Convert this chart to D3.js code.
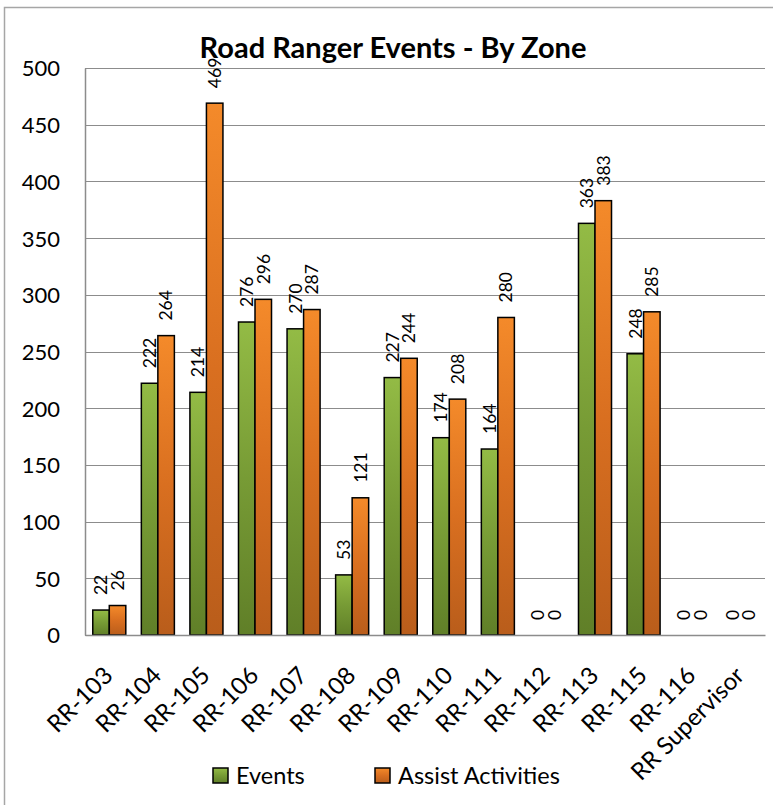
<!DOCTYPE html>
<html>
<head>
<meta charset="utf-8">
<script src="https://cdn.jsdelivr.net/npm/d3@7"></script>
<style>
  body { margin: 0; background: #fff; }
  svg text { font-family: Lato, "Open Sans", sans-serif; fill: #000; }
</style>
</head>
<body>
<script>
(function(){

//chart data
var zones = ["RR-103", "RR-104", "RR-105", "RR-106", "RR-107", "RR-108", "RR-109", "RR-110", "RR-111", "RR-112", "RR-113", "RR-115", "RR-116", "RR Supervisor"];
var events = [22, 222, 214, 276, 270, 53, 227, 174, 164, 0, 363, 248, 0, 0];
var assists = [26, 264, 469, 296, 287, 121, 244, 208, 280, 0, 383, 285, 0, 0];
var seriesNames = ["Events", "Assist Activities"];
var yTicks = [0, 50, 100, 150, 200, 250, 300, 350, 400, 450, 500];

var width = 773,
    height = 805,
    left = 85,
    right = 765,
    top = 68,
    bottom = 635;

var svg = d3.select("body")
    .append("svg")
    .attr("width", width)
    .attr("height", height);

//gradients for the bars
var defs = svg.append("defs");
var grads = [
    { id: "gGreen", c: ["#93bb45", "#779b35", "#607f28"] },
    { id: "gOrange", c: ["#f48a2a", "#d96f20", "#b95d1b"] }
];
grads.forEach(function(g){
    var lg = defs.append("linearGradient")
        .attr("id", g.id)
        .attr("x1", 0).attr("y1", 0).attr("x2", 0).attr("y2", 1);
    lg.append("stop").attr("offset", "0%").attr("stop-color", g.c[0]);
    lg.append("stop").attr("offset", "50%").attr("stop-color", g.c[1]);
    lg.append("stop").attr("offset", "100%").attr("stop-color", g.c[2]);
});
var fills = ["url(#gGreen)", "url(#gOrange)"];

//outer frame
svg.append("rect")
    .attr("x", 4.5)
    .attr("y", 7.5)
    .attr("width", 820)
    .attr("height", 820)
    .attr("fill", "none")
    .attr("stroke", "#a6a6a6")
    .attr("stroke-width", 1.5);

//scales
var x = d3.scaleBand()
    .domain(zones)
    .range([left, right])
    .paddingInner(0.32)
    .paddingOuter(0.16);

var xs = d3.scaleBand()
    .domain([0, 1])
    .range([0, x.bandwidth()]);

var y = d3.scaleLinear()
    .domain([0, 500])
    .range([bottom, top]);

//gridlines
svg.append("g")
    .selectAll("line")
    .data(yTicks)
    .enter()
    .append("line")
    .attr("x1", left)
    .attr("x2", right)
    .attr("y1", function(d){ return Math.round(y(d)) + 0.5; })
    .attr("y2", function(d){ return Math.round(y(d)) + 0.5; })
    .attr("stroke", "#8c8c8c")
    .attr("stroke-width", 1.2);

//y axis
var yAxis = svg.append("g")
    .attr("transform", "translate(" + left + ",0)")
    .call(d3.axisLeft(y).tickValues(yTicks).tickSize(0).tickPadding(25));
yAxis.select(".domain").attr("stroke", "#8c8c8c").attr("stroke-width", 1.5);
yAxis.selectAll("text")
    .style("font-size", "22px")
    .attr("dy", "0.36em");

//bars
var data = [];
zones.forEach(function(z, i){
    data.push({ zone: z, s: 0, v: events[i] });
    data.push({ zone: z, s: 1, v: assists[i] });
});

var shown = data.filter(function(d){ return d.v > 0; });

svg.append("g")
    .selectAll("rect")
    .data(shown)
    .enter()
    .append("rect")
    .attr("x", function(d){ return x(d.zone) + xs(d.s); })
    .attr("y", function(d){ return y(d.v); })
    .attr("width", xs.bandwidth())
    .attr("height", function(d){ return y(0) - y(d.v); })
    .attr("fill", function(d){ return fills[d.s]; })
    .attr("stroke", "#000")
    .attr("stroke-width", 1.5);

//value labels
svg.append("g")
    .selectAll("text")
    .data(data)
    .enter()
    .append("text")
    .attr("transform", function(d){
        var cx = x(d.zone) + xs(d.s) + xs.bandwidth() / 2;
        return "translate(" + cx + "," + (y(d.v) - 15) + ") rotate(-90)";
    })
    .attr("dy", "0.36em")
    .style("font-size", "17.5px")
    .text(function(d){ return d.v; });

//x axis
var xAxis = svg.append("g")
    .attr("transform", "translate(0," + bottom + ")")
    .call(d3.axisBottom(x).tickSize(0).tickPadding(0));
xAxis.select(".domain").attr("stroke", "#8c8c8c").attr("stroke-width", 1.5);
xAxis.selectAll("text")
    .style("font-size", "24px")
    .attr("text-anchor", "end")
    .attr("dy", 0)
    .attr("transform", "translate(5,42) rotate(-45)");

//title
svg.append("text")
    .attr("x", 393)
    .attr("y", 58)
    .attr("text-anchor", "middle")
    .style("font-size", "29px")
    .style("font-weight", "bold")
    .text("Road Ranger Events - By Zone");

//legend
var legendX = [213, 375];
var legend = svg.append("g")
    .selectAll("g")
    .data(seriesNames)
    .enter()
    .append("g")
    .attr("transform", function(d, i){ return "translate(" + legendX[i] + ",768)"; });

legend.append("rect")
    .attr("width", 15)
    .attr("height", 15)
    .attr("fill", function(d, i){ return fills[i]; })
    .attr("stroke", "#000")
    .attr("stroke-width", 1.5);

legend.append("text")
    .attr("x", 23)
    .attr("y", 8)
    .attr("dy", "0.36em")
    .style("font-size", "23.5px")
    .text(function(d){ return d; });

})();
</script>
</body>
</html>
